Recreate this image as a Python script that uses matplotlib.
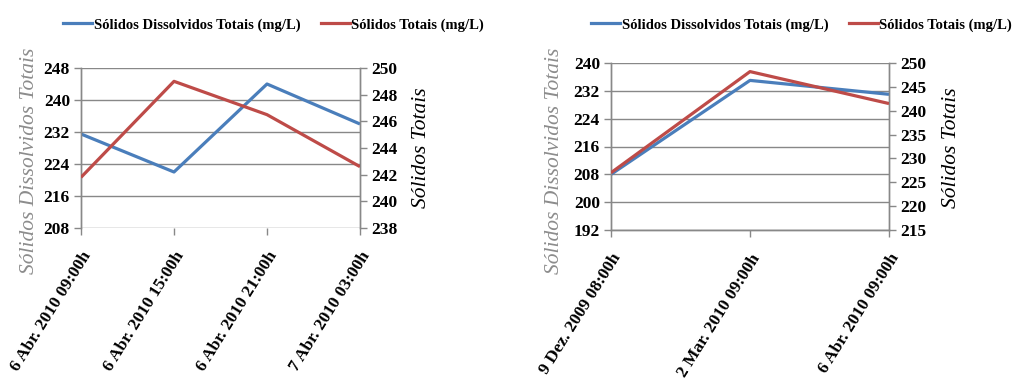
import matplotlib.pyplot as plt
from matplotlib.lines import Line2D

# Series data
cats_a = ["6 Abr. 2010 09:00h", "6 Abr. 2010 15:00h", "6 Abr. 2010 21:00h", "7 Abr. 2010 03:00h"]
sdt_a = [231.5, 222, 244, 234]
st_a = [241.8, 249.0, 246.5, 242.6]

cats_b = ["9 Dez. 2009 08:00h", "2 Mar. 2010 09:00h", "6 Abr. 2010 09:00h"]
sdt_b = [208, 235, 231]
st_b = [227, 248.2, 241.5]

label_sdt = "Sólidos Dissolvidos Totais (mg/L)"
label_st = "Sólidos Totais (mg/L)"
ylab_left = "Sólidos Dissolvidos Totais"
ylab_right = "Sólidos Totais"

BLUE = "#4A7EBB"
RED = "#BE4B48"
GRID = "#888888"
SERIF = ["Liberation Serif", "DejaVu Serif"]

W, H = 1020, 383
fig = plt.figure(figsize=(W / 100, H / 100), dpi=100)


def panel(x0, x1, y0, y1, cats, s1, s2, lim1, step1, lim2, step2,
          bottom_spine, ylab_x_left, ylab_x_right, leg_x):
    ax = fig.add_axes([x0 / W, 1 - y1 / H, (x1 - x0) / W, (y1 - y0) / H])
    ax2 = ax.twinx()
    xs = list(range(len(cats)))
    ax.plot(xs, s1, color=BLUE, lw=2.3, solid_capstyle="butt", zorder=3)
    ax2.plot(xs, s2, color=RED, lw=2.3, solid_capstyle="butt", zorder=3)
    ax.set_xlim(0, len(cats) - 1)
    ax.set_ylim(*lim1)
    ax2.set_ylim(*lim2)
    t1 = list(range(lim1[0], lim1[1] + 1, step1))
    t2 = list(range(lim2[0], lim2[1] + 1, step2))
    ax.set_yticks(t1)
    ax2.set_yticks(t2)
    ax.set_xticks(xs)
    ax.set_xticklabels(cats, rotation=58, ha="right", rotation_mode="anchor",
                       family=SERIF, fontweight="bold", fontsize=12.5)
    for a in (ax, ax2):
        for sp in a.spines.values():
            sp.set_color(GRID)
            sp.set_linewidth(1)
        a.spines["top"].set_visible(False)
        a.spines["bottom"].set_visible(bottom_spine)
        a.tick_params(axis="y", colors=GRID, length=5, width=1,
                      labelcolor="black", labelsize=12.5, pad=3)
        for lbl in a.get_yticklabels():
            lbl.set_family(SERIF)
            lbl.set_fontweight("bold")
    ax.tick_params(axis="x", colors=GRID, length=5, width=1,
                   labelcolor="black", pad=10)
    ax.yaxis.grid(True, color=GRID, lw=1)
    ax.set_axisbelow(True)
    ax.set_zorder(ax2.get_zorder() - 1)
    ax.patch.set_visible(False)
    ax2.patch.set_visible(False)

    fig.text(ylab_x_left / W, 1 - 161 / H, ylab_left, rotation=90,
             ha="center", va="center", family=SERIF, style="italic",
             fontsize=15.5, color="#8C8C8C")
    fig.text(ylab_x_right / W, 1 - 148 / H, ylab_right, rotation=90,
             ha="center", va="center", family=SERIF, style="italic",
             fontsize=15.5, color="black")

    handles = [Line2D([], [], color=BLUE, lw=2.3),
               Line2D([], [], color=RED, lw=2.3)]
    fig.legend(handles, [label_sdt, label_st], loc="center left",
               bbox_to_anchor=(leg_x / W, 1 - 25 / H), ncol=2, frameon=False,
               prop={"family": SERIF, "weight": "bold", "size": 10.5},
               handlelength=2.0, handletextpad=0.1, columnspacing=1.4,
               borderaxespad=0, borderpad=0)
    return ax, ax2


panel(81, 360, 68, 228, cats_a, sdt_a, st_a, (208, 248), 8, (238, 250), 2,
      False, 30, 422, 63)
panel(611, 889, 63, 230, cats_b, sdt_b, st_b, (192, 240), 8, (215, 250), 5,
      True, 555, 952, 591)

fig.savefig("out.png", dpi=100, facecolor="white")
